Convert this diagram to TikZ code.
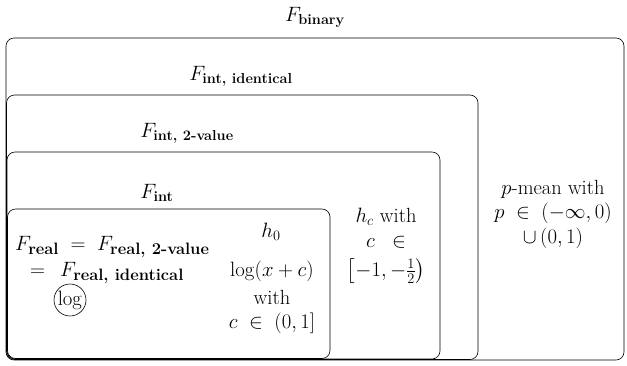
\documentclass[tikz,border=0pt]{standalone}
\usepackage{amsmath}
\newcommand{\bsub}[1]{\text{\fontsize{14.5}{16}\selectfont\bfseries #1}}
\newcommand{\bsubl}[1]{\text{\fontsize{16.5}{18}\selectfont\bfseries #1}}
\begin{document}
\begin{tikzpicture}[x=1pt,y=-1pt,
  setbox/.style={draw,rounded corners=8pt,line width=0.6pt},
  lbl/.style={inner sep=0pt,font=\fontsize{20.5}{24.5}\selectfont},
  lines/.style={lbl,align=center}]
\useasboundingbox (0,0) rectangle (627,365);
\draw[setbox] (6,38) rectangle (624,360);
\draw[setbox] (6.5,95) rectangle (478,359.5);
\draw[setbox] (7,152) rectangle (440,359);
\draw[setbox] (7.5,209) rectangle (330,358.5);
\node[lbl] (lbin) at (315,17) {$F_{\bsub{binary}}$};
\node[lbl] (lid) at (241,76) {$F_{\bsub{int, identical}}$};
\node[lbl] (l2v) at (187,133) {$F_{\bsub{int, 2-value}}$};
\node[lbl] (lint) at (157,193) {$F_{\bsub{int}}$};
\node[lbl,anchor=west] (r1) at (15,247) {$F_{\bsubl{real}}\;=\;F_{\bsubl{real,\ 2-value}}$};
\node[lbl,anchor=west] (r2) at (30,273) {$=\;\,F_{\bsubl{real,\ identical}}$};
\node[lbl,draw,circle,inner sep=0pt,minimum size=32pt,line width=0.6pt] (lg) at (70,300) {$\log$};
\node[lbl] (h0) at (271,232) {$h_0$};
\node[lbl] (lx) at (272,271) {$\log(x+c)$};
\node[lbl] (w1) at (272,297) {with};
\node[lbl] (c1) at (272,323) {$c \;\in\; (0,1]$};
\node[lines] (hc) at (386,246) {$h_c$ with\\$c\;\;\in$\\[5pt]$\left[-1,-\tfrac{1}{2}\right)$};
\node[lines] (pm) at (553,214) {$p$-mean with\\$p\;\in\;(-\infty,0)$\\$\cup\,(0,1)$};
\end{tikzpicture}
\end{document}
